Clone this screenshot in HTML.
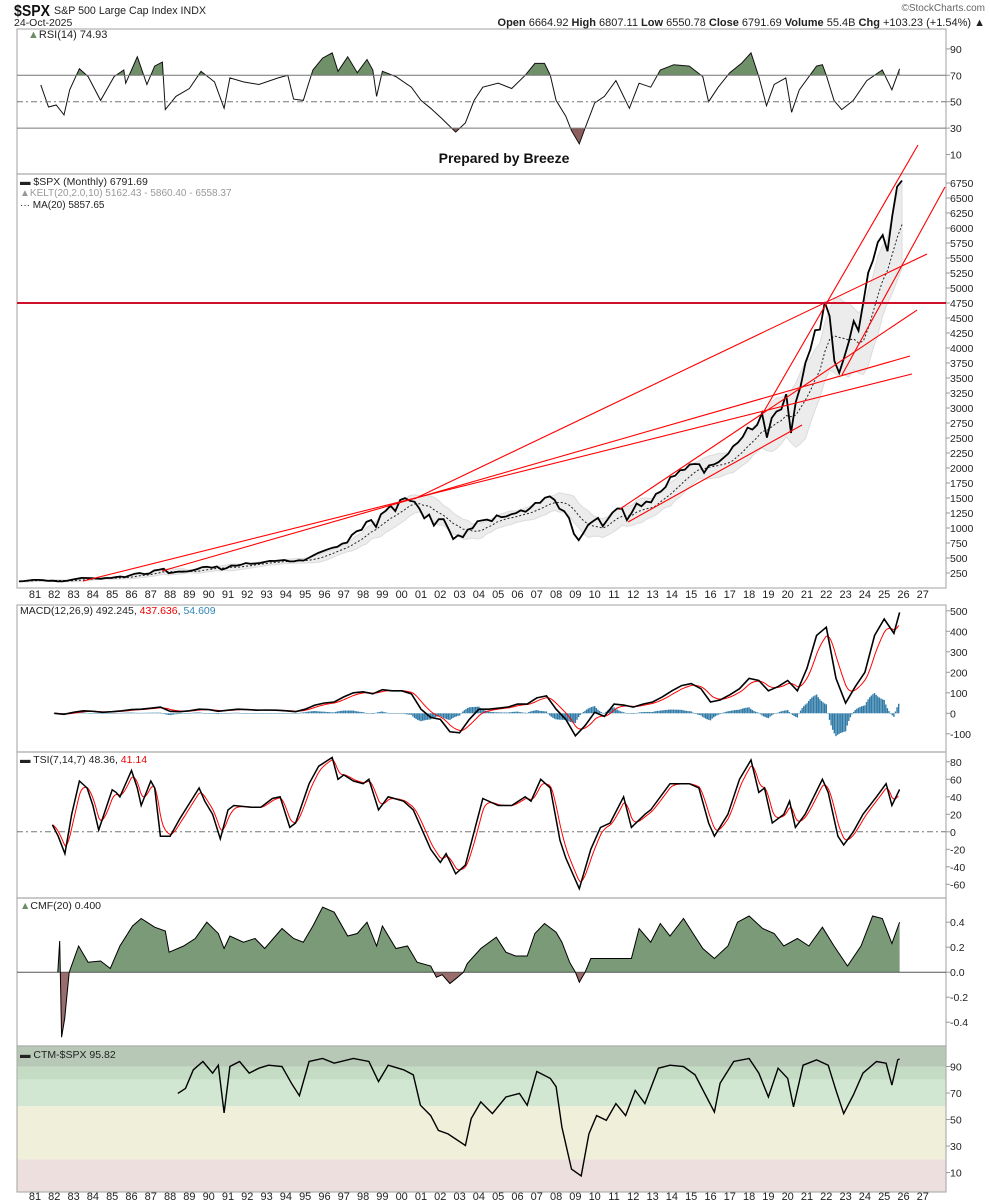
<!DOCTYPE html>
<html><head><meta charset="utf-8"><style>
html,body{margin:0;padding:0;background:#fff}
svg{display:block;font-family:"Liberation Sans",sans-serif}
</style></head><body>
<svg id="chart" width="990" height="1204" viewBox="0 0 990 1204" xmlns="http://www.w3.org/2000/svg">
<rect x="0" y="0" width="990" height="1204" fill="#fff"/>
<text x="14" y="16" font-size="16" font-weight="bold" fill="#111" textLength="36" lengthAdjust="spacingAndGlyphs">$SPX</text>
<text x="54" y="14" font-size="11" fill="#222" textLength="152" lengthAdjust="spacingAndGlyphs">S&amp;P 500 Large Cap Index INDX</text>
<text x="14" y="26" font-size="10.5" fill="#222">24-Oct-2025</text>
<text x="985" y="11" font-size="10" fill="#666" text-anchor="end">©StockCharts.com</text>
<text x="985" y="26" font-size="11" fill="#222" text-anchor="end"><tspan font-weight="bold">Open</tspan> 6664.92 <tspan font-weight="bold">High</tspan> 6807.11 <tspan font-weight="bold">Low</tspan> 6550.78 <tspan font-weight="bold">Close</tspan> 6791.69 <tspan font-weight="bold">Volume</tspan> 55.4B <tspan font-weight="bold">Chg</tspan> +103.23 (+1.54%) ▲</text>
<g id="panels"></g>
<g id="marks"></g>
<g id="labels">
<text x="28" y="38" font-size="11" fill="#222"><tspan fill="#6b8e65">▲</tspan>RSI(14) 74.93</text>
<text x="504" y="163" font-size="14" font-weight="bold" fill="#111" text-anchor="middle">Prepared by Breeze</text>
<text x="20" y="185" font-size="10.5" fill="#222">▬ $SPX (Monthly) 6791.69</text>
<text x="20" y="196" font-size="10" fill="#999">▲KELT(20,2.0,10) 5162.43 - 5860.40 - 6558.37</text>
<text x="20" y="208" font-size="10" fill="#222">··· MA(20) 5857.65</text>
<text x="20" y="614" font-size="10.5" fill="#222">MACD(12,26,9) 492.245, <tspan fill="#e00">437.636</tspan>, <tspan fill="#2f86b8">54.609</tspan></text>
<text x="20" y="763" font-size="10.5" fill="#222">▬ TSI(7,14,7) 48.36, <tspan fill="#e00">41.14</tspan></text>
<text x="20" y="909" font-size="10.5" fill="#222"><tspan fill="#6b8e65">▲</tspan>CMF(20) 0.400</text>
<text x="20" y="1058" font-size="10.5" fill="#222">▬ CTM-$SPX 95.82</text>
</g>
</svg>
<script>
// ---------- data ----------
const priceStart = 1980.17;
const priceValues = [110,115,125,135, 135,130,118,122, 112,110,120,140, 153,168,166,165, 159,153,166,167,
 180,191,182,211, 238,250,231,242, 291,304,321,247, 258,273,271,277, 294,317,349,353, 339,358,306,330,
 375,371,387,417, 403,408,417,435, 451,450,458,466, 445,444,462,459, 500,544,584,615, 645,670,687,740,
 757,885,947,970, 1101,1133,1017,1229, 1286,1372,1282,1469, 1498,1454,1436,1320, 1160,1224,1040,1148,
 1147,989,815,879, 848,974,995,1111, 1126,1140,1114,1211, 1180,1191,1228,1248, 1294,1270,1335,1418,
 1420,1503,1526,1468, 1322,1280,1166,903, 797,919,1057,1115, 1169,1030,1141,1257, 1325,1320,1131,1257,
 1408,1362,1440,1426, 1569,1606,1681,1848, 1872,1960,1972,2058, 2067,2063,1920,2043, 2059,2098,2168,2238,
 2362,2423,2519,2673, 2640,2718,2913,2506, 2834,2941,2976,3230, 2584,3100,3363,3756, 3972,4297,4307,4766,
 4530,3785,3585,3839, 4109,4450,4288,4769, 5254,5460,5762,5881, 5611,6205,6688,6791];
const priceTicks = [250,500,750,1000,1250,1500,1750,2000,2250,2500,2750,3000,3250,3500,3750,4000,4250,4500,4750,5000,5250,5500,5750,6000,6250,6500,6750];
const hLineLevel = 4750;
const trendStartDates = [1983.49,1987.58,2000.64,2011.31,2018.72,2011.73,2022.81];
const trendStartPrices = [117,283,1483,1317,2917,1100,3550];
const trendEndDates = [2026.44,2026.34,2027.22,2026.70,2026.75,2020.74,2028.15];
const trendEndPrices = [3567,3867,5567,4633,7383,2717,6683];

const rsiDates = [1981.3,1981.7,1982.1,1982.5,1982.8,1983.3,1983.75,1984.4,1985.1,1985.6,1985.7,1986.3,1986.8,1987.2,1987.6,1987.75,1988.3,1989,1989.6,1990.3,1990.8,1991.1,1991.8,1992.6,1993.6,1994.1,1994.4,1994.9,1995.4,1995.9,1996.4,1996.7,1997.2,1997.7,1998.2,1998.5,1998.7,1999,1999.7,2000.5,2001,2001.5,2002.1,2002.8,2003.3,2003.75,2004.2,2005,2005.7,2006.4,2006.9,2007.4,2007.7,2008,2008.5,2008.8,2009.2,2009.5,2010,2010.5,2011.1,2011.8,2012.3,2012.9,2013.4,2014.1,2014.9,2015.6,2015.9,2016.4,2017,2017.6,2018.1,2018.5,2018.9,2019.3,2019.9,2020.2,2020.6,2021.5,2021.8,2022,2022.4,2022.8,2023.4,2024.1,2024.9,2025.4,2025.8];
const rsiValues = [62.7,46,47.5,40,59,75,69,51,69,74,64,84,63,77,80,44,54,60,73,65,45,68,65,63,68,70,52,51,74,83,87,73,84,72,82,74,54,73,69,61,51,45,37,27,34,51,61,64,60,70,79,79,70,51,39,28,18,30,49,54,66,45,64,61,74,78,77,69,50,61,72,79,87,69,47,63,68,42,59,77,78,70,51,44,51,66,74,59,74.9];
const rsiTicks = [90,70,50,30,10];

const macdDates = [1982,1982.5,1983,1983.5,1984,1984.5,1985,1985.5,1986,1986.5,1987,1987.5,1988,1988.5,1989,1989.5,1990,1990.5,1991,1991.5,1992,1992.5,1993,1993.5,1994,1994.5,1995,1995.5,1996,1996.5,1997,1997.5,1998,1998.5,1999,1999.5,2000,2000.5,2001,2001.5,2002,2002.5,2003,2003.5,2004,2004.5,2005,2005.5,2006,2006.5,2007,2007.5,2008,2008.5,2009,2009.5,2010,2010.5,2011,2011.5,2012,2012.5,2013,2013.5,2014,2014.5,2015,2015.5,2016,2016.5,2017,2017.5,2018,2018.5,2019,2019.5,2020,2020.5,2021,2021.5,2022,2022.5,2023,2023.5,2024,2024.5,2025,2025.5,2025.8];
const macdValues = [0,-5,5,12,10,5,8,12,18,20,25,30,10,8,12,20,18,10,15,20,18,15,16,15,12,8,20,40,50,55,80,100,105,95,115,110,110,95,20,-20,-30,-90,-95,-30,20,20,25,30,45,45,75,85,20,-30,-110,-60,5,-15,45,40,30,45,55,80,110,135,145,120,55,65,90,120,170,160,110,130,160,110,220,380,420,170,50,130,200,380,460,390,492];
const macdTicks = [500,400,300,200,100,0,-100];

const tsiDates = [1981.9,1982.2,1982.55,1982.9,1983.3,1983.7,1984.0,1984.3,1984.5,1985.0,1985.2,1985.4,1986.0,1986.3,1986.5,1987.0,1987.2,1987.5,1988.0,1988.5,1989.5,1989.8,1990.2,1990.6,1991.0,1991.3,1992.2,1992.7,1993.3,1993.7,1994.2,1994.5,1995.2,1995.7,1996.4,1996.7,1997.0,1997.5,1998.0,1998.3,1998.8,1999.3,2000.1,2000.6,2001.5,2002.0,2002.3,2002.8,2003.3,2003.75,2004.2,2005.0,2005.7,2006.4,2006.7,2007.2,2007.7,2008.2,2008.5,2009.2,2009.8,2010.3,2010.8,2011.5,2011.9,2012.6,2012.9,2013.9,2014.9,2015.4,2015.9,2016.2,2016.9,2017.5,2018.1,2018.5,2018.8,2019.2,2019.8,2020.1,2020.4,2020.9,2021.8,2022.1,2022.6,2022.9,2023.4,2023.9,2024.6,2025.1,2025.4,2025.8];
const tsiValues = [8,-5,-25,20,58,50,30,2,15,48,45,40,70,50,30,58,50,-5,-5,15,50,35,20,-8,25,30,28,28,38,40,5,10,55,75,85,60,65,58,55,60,25,40,35,25,-20,-35,-25,-48,-38,0,38,30,30,40,35,60,50,-10,-30,-65,-20,5,10,40,5,20,25,55,55,50,10,-5,20,60,82,45,50,10,20,35,5,20,60,45,-5,-15,0,20,40,55,30,48.4];
const tsiTicks = [80,60,40,20,0,-20,-40,-60];

const cmfDates = [1982.18,1982.28,1982.38,1982.54,1982.77,1983.26,1983.75,1984.4,1984.9,1985.4,1986.05,1986.5,1987.2,1987.75,1987.95,1988.7,1989.3,1989.9,1990.5,1990.8,1991.1,1991.8,1992.4,1992.9,1993.8,1994.4,1994.9,1995.4,1995.9,1996.5,1997.2,1997.7,1998.2,1998.7,1999.0,1999.7,2000.3,2000.8,2001.5,2001.8,2002.1,2002.5,2002.9,2003.2,2003.4,2004.1,2004.9,2005.4,2005.9,2006.5,2006.9,2007.4,2008.0,2008.3,2008.7,2009.0,2009.2,2009.5,2009.8,2010.6,2011.5,2011.9,2012.3,2012.9,2013.4,2013.9,2014.6,2015.1,2015.6,2016.2,2016.9,2017.4,2018.0,2018.7,2019.3,2019.8,2020.5,2021.1,2021.8,2022.4,2023.1,2023.8,2024.4,2024.9,2025.4,2025.8];
const cmfValues = [0,0.25,-0.52,-0.37,0,0.21,0.08,0.09,0.03,0.21,0.37,0.43,0.36,0.33,0.16,0.21,0.27,0.4,0.31,0.19,0.29,0.24,0.27,0.19,0.35,0.27,0.24,0.37,0.52,0.48,0.29,0.31,0.4,0.21,0.37,0.19,0.21,0.08,0.05,-0.04,-0.02,-0.09,-0.04,0,0.07,0.19,0.28,0.16,0.13,0.13,0.31,0.39,0.32,0.24,0.08,0,-0.08,0,0.11,0.11,0.11,0.11,0.35,0.24,0.39,0.29,0.43,0.31,0.19,0.11,0.21,0.4,0.45,0.35,0.31,0.21,0.27,0.21,0.36,0.21,0.05,0.21,0.45,0.43,0.23,0.4];
const cmfTicks = [0.4,0.2,0.0,-0.2,-0.4];
const cmfTickText = ["0.4","0.2","0.0","-0.2","-0.4"];

const ctmDates = [1988.4,1988.8,1989.2,1989.7,1990.2,1990.5,1990.8,1991.1,1991.6,1992.1,1992.6,1993.1,1993.8,1994.3,1994.7,1995.2,1995.9,1996.5,1997.5,1998.3,1998.8,1999.3,2000.1,2000.6,2000.97,2001.5,2001.9,2002.4,2003.3,2003.6,2004.1,2004.7,2005.4,2006.1,2006.5,2007.0,2007.7,2008.0,2008.3,2008.8,2009.3,2009.7,2010.1,2010.6,2011.1,2011.6,2012.1,2012.6,2013.3,2013.9,2014.6,2015.2,2015.7,2016.2,2016.5,2017.2,2018.0,2018.5,2019.0,2019.5,2020.0,2020.3,2020.8,2021.5,2022.1,2022.5,2022.9,2023.4,2023.9,2024.6,2025.1,2025.4,2025.7,2025.8];
const ctmValues = [69.7,73.5,87.5,93.8,85,91,55,90,93.8,85,88.7,91,90,77,68,93.8,96,92.5,96,93.8,78.6,91,87.5,83.7,60.8,53,41.8,39.2,30.4,50.7,63.3,54.5,67,69.7,60.8,86.2,81,74.8,44.3,12.6,7.5,39.2,53,49.4,62,53,72,62,88.7,91,90,83.7,69.7,55.7,77.3,93.8,96,85,67,88.7,81,59.5,91,95,91,72,54.5,68.4,85,93.8,92.5,76,95,95.8];
const ctmTicks = [90,70,50,30,10];
const ctmBandLevels = [106,90,80,60,20,-6];
const ctmBandColors = ["#b7c8b7","#c4dbc4","#d1e7d1","#efefda","#eedfdf"];

const yearLabels = ["81","82","83","84","85","86","87","88","89","90","91","92","93","94","95","96","97","98","99","00","01","02","03","04","05","06","07","08","09","10","11","12","13","14","15","16","17","18","19","20","21","22","23","24","25","26","27"];

// ---------- scales ----------
const L=17, R=946;
const xT = t => 35 + (t-1981)*19.3;
const yRsi = v => 75.3 + (70-v)*1.32;
const yPx = v => 183 + (6750-v)*0.06;
const yMacd = v => 713.3 - v*0.205;
const yTsi = v => 831.8 - v*0.875;
const yCmf = v => 972.2 - v*125;
const yCtm = v => 1066.5 + (90-v)*1.326;
const NS="http://www.w3.org/2000/svg";
const panelsG=document.getElementById('panels'), marksG=document.getElementById('marks');
function mk(tag, attrs, parent){const e=document.createElementNS(NS,tag);for(const k in attrs)e.setAttribute(k,attrs[k]);(parent||marksG).appendChild(e);return e;}
function ptsStr(dates, vals, yf){return dates.map((d,i)=>xT(d).toFixed(1)+','+yf(vals[i]).toFixed(1)).join(' ');}
function interp(dates, vals, t){if(t<=dates[0])return vals[0];for(let i=1;i<dates.length;i++){if(t<=dates[i]){const f=(t-dates[i-1])/(dates[i]-dates[i-1]);return vals[i-1]+f*(vals[i]-vals[i-1]);}}return vals[vals.length-1];}
function emaSeries(dates, vals, n){const k=2/(n+1);const ts=[],out=[];let e=null;for(let t=dates[0];t<=dates[dates.length-1]+1e-6;t+=1/12){const v=interp(dates,vals,t);e=(e===null)?v:e+k*(v-e);ts.push(t);out.push(e);}return [ts,out];}

const defs=mk('defs',{},panelsG);
const cp=mk('clipPath',{id:'plotclip'},defs); mk('rect',{x:L,y:0,width:R-L,height:1204},cp);

// ---------- panels ----------
const panelTops=[29,174,605,752,898,1046];
const panelBots=[174,588,752,898,1046,1192];
const panelNames=['rsi-panel','price-panel','macd-panel','tsi-panel','cmf-panel','ctm-panel'];
for(let i=0;i<ctmBandColors.length;i++){
  const y1=Math.max(1046,yCtm(ctmBandLevels[i])), y2=Math.min(1192,yCtm(ctmBandLevels[i+1]));
  const b=mk('rect',{x:L,y:y1,width:R-L,height:y2-y1,fill:ctmBandColors[i]},panelsG);
  
  
}
for(let i=0;i<6;i++){
  const p=mk('rect',{x:L,y:panelTops[i],width:R-L,height:panelBots[i]-panelTops[i],fill:'none',stroke:'#b0b0b0','stroke-width':1.2},panelsG);
  
  
}
[598,1200].forEach((yy,row)=>{
  yearLabels.forEach((lab,i)=>{
    const t=mk('text',{x:xT(1981+i),y:yy,'font-size':11,fill:'#222','text-anchor':'middle'},panelsG);
    t.textContent=lab;
    
    
  });
});
function yTicks(ticks, yf, texts){
  ticks.forEach((v,i)=>{
    const y=yf(v);
    const tk=mk('line',{x1:R,x2:R+4,y1:y,y2:y,stroke:'#999'},panelsG);
    
    
    const t=mk('text',{x:R+4,y:y+4,'font-size':10.5,fill:'#222'},panelsG);
    t.textContent=texts?texts[i]:String(v);
    
    
  });
}
yTicks(rsiTicks,yRsi); yTicks(priceTicks,yPx); yTicks(macdTicks,yMacd); yTicks(tsiTicks,yTsi); yTicks(cmfTicks,yCmf,cmfTickText); yTicks(ctmTicks,yCtm);

function hline(y, dash, color, name){
  const l=mk('line',{x1:L,x2:R,y1:y,y2:y,stroke:color,'stroke-width':1,'stroke-dasharray':dash||'none'});
  
  
}

// ---------- RSI ----------
const rsiG=mk('g',{'clip-path':'url(#plotclip)'});
const cpUp=mk('clipPath',{id:'rsiup'},defs); mk('rect',{x:L,y:29,width:R-L,height:yRsi(70)-29},cpUp);
const cpDn=mk('clipPath',{id:'rsidn'},defs); mk('rect',{x:L,y:yRsi(30),width:R-L,height:174-yRsi(30)},cpDn);
const rl=rsiDates.length;
const rsiPolyUp=ptsStr(rsiDates,rsiValues,yRsi)+' '+xT(rsiDates[rl-1])+','+yRsi(70)+' '+xT(rsiDates[0])+','+yRsi(70);
const rsiPolyDn=ptsStr(rsiDates,rsiValues,yRsi)+' '+xT(rsiDates[rl-1])+','+yRsi(30)+' '+xT(rsiDates[0])+','+yRsi(30);
let e=mk('polygon',{points:rsiPolyUp,fill:'#6f9068','clip-path':'url(#rsiup)'},rsiG);


e=mk('polygon',{points:rsiPolyDn,fill:'#8c5e5e','clip-path':'url(#rsidn)'},rsiG);


hline(yRsi(70),null,'#777','rsi-70-line');
hline(yRsi(30),null,'#777','rsi-30-line');
hline(yRsi(50),'6,3,2,3','#777','rsi-50-line');
e=mk('polyline',{points:ptsStr(rsiDates,rsiValues,yRsi),fill:'none',stroke:'#111','stroke-width':1},rsiG);



// ---------- Price ----------
const pDates=priceValues.map((v,i)=>priceStart+i*0.25);
const maV=[],upV=[],loV=[];
priceValues.forEach((v,i)=>{
  const a=Math.max(0,i-6);let s=0;for(let j=a;j<=i;j++)s+=priceValues[j];const ma=s/(i-a+1);
  const b=Math.max(1,i-3);let d=0,c=0;for(let j=b;j<=i;j++){d+=Math.abs(priceValues[j]-priceValues[j-1]);c++;}
  const half=0.06*ma+(c?d/c:0);
  maV.push(ma);upV.push(ma+half);loV.push(ma-half);
});
const pG=mk('g',{'clip-path':'url(#plotclip)'});
const bandPts=ptsStr(pDates,upV,yPx)+' '+pDates.slice().reverse().map((d,i)=>xT(d).toFixed(1)+','+yPx(loV[loV.length-1-i]).toFixed(1)).join(' ');
e=mk('polygon',{points:bandPts,fill:'#ececec',stroke:'#dcdcdc','stroke-width':1},pG);


e=mk('polyline',{points:ptsStr(pDates,maV,yPx),fill:'none',stroke:'#222','stroke-width':1,'stroke-dasharray':'2,2'},pG);


e=mk('polyline',{points:ptsStr(pDates,priceValues,yPx),fill:'none',stroke:'#000','stroke-width':1.8},pG);


for(let i=0;i<trendStartDates.length;i++){
  const t=mk('line',{x1:xT(trendStartDates[i]),y1:yPx(trendStartPrices[i]),x2:xT(trendEndDates[i]),y2:yPx(trendEndPrices[i]),stroke:'#f00','stroke-width':1.1});
  
  
}
e=mk('line',{x1:L,x2:R,y1:yPx(hLineLevel),y2:yPx(hLineLevel),stroke:'#d0102a','stroke-width':2});



// ---------- MACD ----------
const [mT,mEma]=emaSeries(macdDates,macdValues,9);
const mG=mk('g',{'clip-path':'url(#plotclip)'});
mT.forEach((t,i)=>{
  const h=interp(macdDates,macdValues,t)-mEma[i];
  const y0=yMacd(0),y1=yMacd(h);
  const b=mk('rect',{x:xT(t)-0.7,y:Math.min(y0,y1),width:1.4,height:Math.max(0.5,Math.abs(y1-y0)),fill:'#2f7aa6'},mG);
  
  
});
e=mk('polyline',{points:ptsStr(mT,mEma,yMacd),fill:'none',stroke:'#f00','stroke-width':1},mG);


e=mk('polyline',{points:ptsStr(macdDates,macdValues,yMacd),fill:'none',stroke:'#000','stroke-width':1.6},mG);



// ---------- TSI ----------
hline(yTsi(0),'6,3,2,3','#777','tsi-zero-line');
const [tT,tEma]=emaSeries(tsiDates,tsiValues,5);
e=mk('polyline',{points:ptsStr(tT,tEma,yTsi),fill:'none',stroke:'#f00','stroke-width':1});


e=mk('polyline',{points:ptsStr(tsiDates,tsiValues,yTsi),fill:'none',stroke:'#000','stroke-width':1.5});



// ---------- CMF ----------
const cpC1=mk('clipPath',{id:'cmfup'},defs); mk('rect',{x:L,y:898,width:R-L,height:yCmf(0)-898},cpC1);
const cpC2=mk('clipPath',{id:'cmfdn'},defs); mk('rect',{x:L,y:yCmf(0),width:R-L,height:1046-yCmf(0)},cpC2);
const cl=cmfDates.length;
const cmfPoly=ptsStr(cmfDates,cmfValues,yCmf)+' '+xT(cmfDates[cl-1])+','+yCmf(0)+' '+xT(cmfDates[0])+','+yCmf(0);
e=mk('polygon',{points:cmfPoly,fill:'#7a9a78','clip-path':'url(#cmfup)'});


e=mk('polygon',{points:cmfPoly,fill:'#9a6c6c','clip-path':'url(#cmfdn)'});


hline(yCmf(0),null,'#555','cmf-zero-line');
e=mk('polyline',{points:ptsStr(cmfDates,cmfValues,yCmf),fill:'none',stroke:'#000','stroke-width':1});



// ---------- CTM ----------
e=mk('polyline',{points:ptsStr(ctmDates,ctmValues,yCtm),fill:'none',stroke:'#000','stroke-width':1.4});


</script>
</body></html>
